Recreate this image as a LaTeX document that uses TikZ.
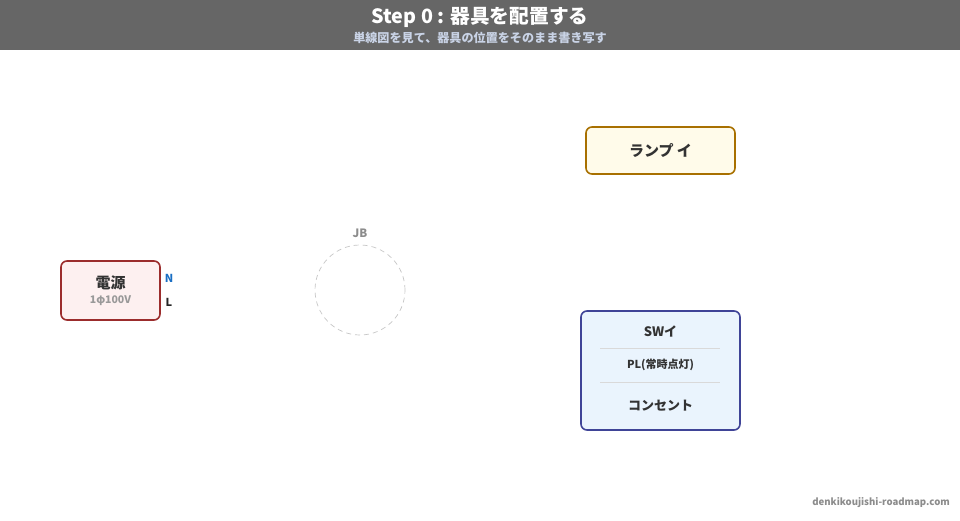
\documentclass[tikz,border=0pt]{standalone}
\usepackage{fontspec}
\setmainfont{Noto Sans CJK JP}
\begin{document}
\begin{tikzpicture}[x=1pt,y=-1pt,
  box/.style={draw, line width=1.6pt, rounded corners=6pt, inner sep=0pt},
  lbl/.style={font=\bfseries, text=black!80, inner sep=0pt},
  sep/.style={draw=black!15, line width=0.6pt}]
\definecolor{hdr}{HTML}{666666}
\definecolor{subc}{HTML}{C9D3E6}
\definecolor{pwrb}{HTML}{9B2C2C}
\definecolor{pwrf}{HTML}{FDF0F0}
\definecolor{lmpb}{HTML}{A87000}
\definecolor{lmpf}{HTML}{FFFBEA}
\definecolor{swb}{HTML}{3F4497}
\definecolor{swf}{HTML}{EAF4FD}
\definecolor{nblue}{HTML}{1A6FC4}
\useasboundingbox (0,0) rectangle (960,520);
\fill[white] (0,0) rectangle (960,520);
\fill[hdr] (0,0) rectangle (960,50);
\node[font=\bfseries\fontsize{19.7}{22}\selectfont, text=white, inner sep=0pt] (title) at (480,17) {Step 0 : 器具を配置する};
\node[font=\bfseries\fontsize{12.1}{14}\selectfont, text=subc, inner sep=0pt] (sub) at (480,38) {単線図を見て、器具の位置をそのまま書き写す};
% power
\draw[box, draw=pwrb, fill=pwrf] (61,261) rectangle (160,320);
\node[lbl, font=\bfseries\fontsize{15}{17}\selectfont] (pwr) at (110.5,283) {電源};
\node[font=\bfseries\fontsize{10.5}{12}\selectfont, text=black!40, inner sep=0pt] (pwrv) at (110.5,301) {1φ100V};
\node[font=\bfseries\fontsize{11}{12}\selectfont, text=nblue, inner sep=0pt] (N) at (169,278) {N};
\node[font=\bfseries\fontsize{11}{12}\selectfont, text=black!85, inner sep=0pt] (L) at (169,302) {L};
% JB
\node[circle, draw=black!22, dashed, dash pattern=on 5pt off 4pt, line width=0.7pt, minimum size=90pt, inner sep=0pt] (jb) at (360,290) {};
\node[font=\bfseries\fontsize{11.5}{12}\selectfont, text=black!45, inner sep=0pt] (jbl) at (360,233) {JB};
% lamp
\draw[box, draw=lmpb, fill=lmpf] (586,127) rectangle (735,174);
\node[lbl, font=\bfseries\fontsize{15}{17}\selectfont] (lamp) at (660.5,151) {ランプ イ};
% switch box
\draw[box, draw=swb, fill=swf] (581,311) rectangle (740,430);
\node[lbl, font=\bfseries\fontsize{13}{15}\selectfont] (sw) at (660.5,331) {SWイ};
\coordinate (s1a) at (600,348); \coordinate (s1b) at (720,348);
\draw[sep] (s1a) -- (s1b);
\node[lbl, font=\bfseries\fontsize{11}{13}\selectfont] (pl) at (660.5,365) {PL(常時点灯)};
\coordinate (s2a) at (600,382); \coordinate (s2b) at (720,382);
\draw[sep] (s2a) -- (s2b);
\node[lbl, font=\bfseries\fontsize{13}{15}\selectfont] (outlet) at (660.5,406) {コンセント};
% footer
\node[font=\bfseries\fontsize{9.6}{12}\selectfont, text=black!45, inner sep=0pt, anchor=east] (foot) at (950,503) {denkikoujishi-roadmap.com};
\end{tikzpicture}
\end{document}
